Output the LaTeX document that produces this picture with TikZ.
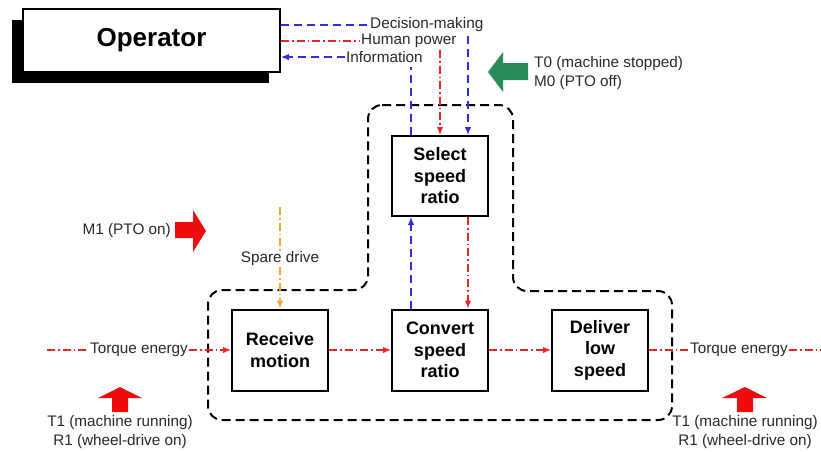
\documentclass[tikz,border=0pt]{standalone}
\usepackage{fontspec}
\setmainfont{Liberation Sans}
\usetikzlibrary{arrows.meta,shadows}
\definecolor{flowblue}{RGB}{45,45,225}
\definecolor{flowred}{RGB}{228,40,40}
\definecolor{floworange}{RGB}{240,170,50}
\definecolor{bigred}{RGB}{238,12,12}
\definecolor{biggreen}{RGB}{40,140,90}
\definecolor{labelgray}{RGB}{40,40,40}
\tikzset{
  fnbox/.style={draw, line width=2pt, minimum width=96pt, minimum height=80pt,
    align=center, font=\fontsize{18}{21.5}\selectfont\bfseries},
  lbl/.style={inner sep=1pt, text=labelgray, font=\fontsize{15.3}{18.5}\selectfont},
  headtip/.style={-{Latex[length=8pt,width=6.5pt]}},
  infoline/.style={flowblue, line width=1.3pt, dash pattern=on 8pt off 5pt},
  powerline/.style={flowred, line width=1.3pt, dash pattern=on 8pt off 3pt on 1.5pt off 3pt},
  spareline/.style={floworange, line width=1.3pt, dash pattern=on 8pt off 3pt on 1.5pt off 3pt},
  boundary/.style={draw=black, line width=2pt, dash pattern=on 9pt off 5pt, rounded corners=14pt},
}
\begin{document}
\begin{tikzpicture}[x=1pt, y=-1pt]
\useasboundingbox (0,0) rectangle (821,451);

% operator with its offset shadow
\node[draw, line width=2pt, fill=white, minimum width=257pt, minimum height=63pt,
      font=\fontsize{26}{30}\selectfont\bfseries,
      drop shadow={shadow xshift=-11pt, shadow yshift=-11pt, fill=black, opacity=1}]
      (op) at (151.5,40.5) {Operator};

% function boxes
\node[fnbox] (sel) at (440,176) {Select\\speed\\ratio};
\node[fnbox, minimum height=81pt] (rec) at (280,350) {Receive\\motion};
\node[fnbox, minimum height=81pt] (con) at (440,350) {Convert\\speed\\ratio};
\node[fnbox, minimum height=81pt] (del) at (600,350) {Deliver\\low\\speed};

% system boundary
\draw[boundary] (368,105) -- (513,105) -- (513,291) -- (672,291) -- (672,420)
  -- (208,420) -- (208,290) -- (368,290) -- cycle;

% operator interface labels
\node[lbl, anchor=west] (dec) at (369,25) {Decision-making};
\node[lbl, anchor=west] (hum) at (360,41) {Human power};
\node[lbl, anchor=west] (inf) at (345,57) {Information};
\coordinate (decdown) at (468,36);
\coordinate (humdown) at (440,50);
\coordinate (infdown) at (411,67);

\draw[infoline] (op.east |- dec) -- (dec.west);
\draw[powerline] (op.east |- hum) -- (hum.west);
\draw[infoline, headtip] (inf.west) -- (op.east |- inf);

\draw[infoline, headtip] (decdown) -- (decdown |- sel.north);
\draw[powerline, headtip] (humdown) -- (humdown |- sel.north);
\draw[infoline] (infdown |- sel.north) -- (infdown);

% control loop between select and convert
\draw[infoline, headtip] (infdown |- con.north) -- (infdown |- sel.south);
\draw[powerline, headtip] (decdown |- sel.south) -- (decdown |- con.north);

% torque path
\node[lbl] (tin) at (139,350) {Torque energy};
\node[lbl] (tout) at (739,350) {Torque energy};
\coordinate (tstart) at (47,350);
\coordinate (tend) at (821,350);
\draw[powerline] (tstart) -- (tin.west);
\draw[powerline, headtip] (tin.east) -- (rec.west);
\draw[powerline, headtip] (rec.east) -- (con.west);
\draw[powerline, headtip] (con.east) -- (del.west);
\draw[powerline] (del.east) -- (tout.west);
\draw[powerline] (tout.east) -- (tend);

% spare drive
\node[lbl, fill=white] (spare) at (280,259) {Spare drive};
\coordinate (sparetop) at (280,207);
\draw[spareline] (sparetop) -- (spare.north);
\draw[spareline, headtip] (spare.south) -- (rec.north);

% state arrows
\fill[biggreen] (488,72) -- (503,52) -- (503,63) -- (528,63) -- (528,80) -- (503,80) -- (503,92) -- cycle;
\fill[bigred] (206,231) -- (193,210) -- (193,222) -- (175,222) -- (175,238) -- (193,238) -- (193,252) -- cycle;
\fill[bigred] (120,387) -- (142,398) -- (128,398) -- (128,412) -- (112,412) -- (112,398) -- (98,398) -- cycle;
\fill[bigred] (745,387) -- (767,398) -- (753,398) -- (753,412) -- (737,412) -- (737,398) -- (722,398) -- cycle;

\node[lbl, anchor=west, align=left] (t0) at (533,73) {T0 (machine stopped)\\M0 (PTO off)};
\node[lbl, anchor=east] (m1) at (172,231) {M1 (PTO on)};
\node[lbl, align=center] (t1l) at (120,432) {T1 (machine running)\\R1 (wheel-drive on)};
\node[lbl, align=center] (t1r) at (745,432) {T1 (machine running)\\R1 (wheel-drive on)};
\end{tikzpicture}
\end{document}
